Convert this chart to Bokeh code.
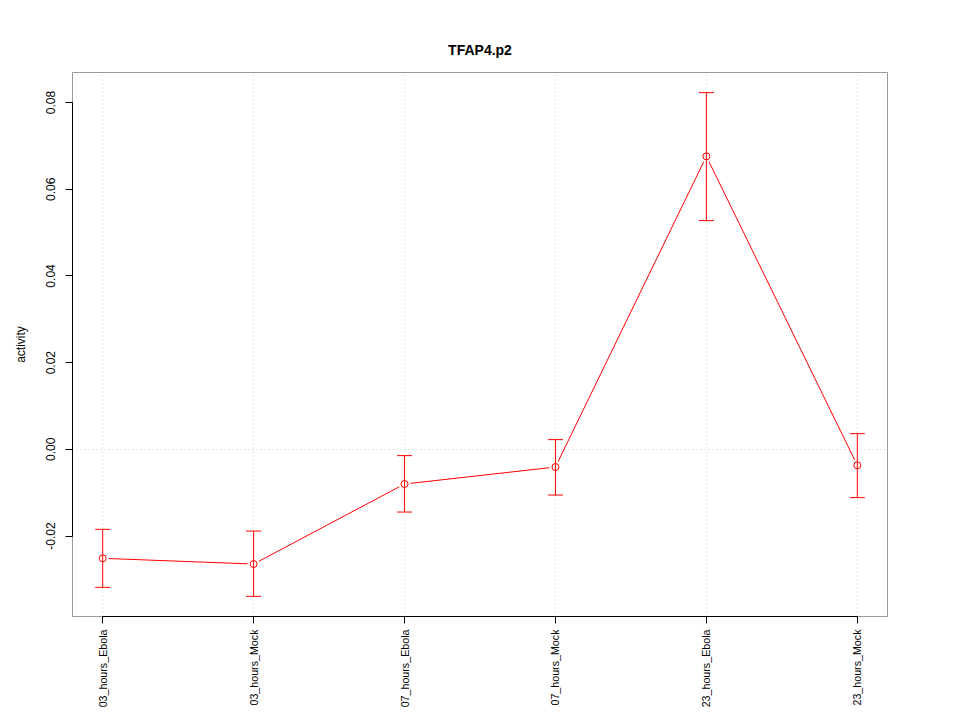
import math
import numpy as np
from bokeh.plotting import figure
from bokeh.layouts import column
from bokeh.models import ColumnDataSource, Whisker, TeeHead, FixedTicker, Range1d, Spacer
from bokeh.embed import file_html
from bokeh.resources import INLINE

# ---- data ----
categories = ["03_hours_Ebola", "03_hours_Mock", "07_hours_Ebola",
              "07_hours_Mock", "23_hours_Ebola", "23_hours_Mock"]
activity = [-0.02514, -0.02646, -0.00800, -0.00408, 0.06759, -0.00369]
upper_err = [-0.01845, -0.01885, -0.00145, 0.00224, 0.08228, 0.00362]
lower_err = [-0.03183, -0.03391, -0.01446, -0.01054, 0.05276, -0.01114]
y_ticks = [-0.02, 0.00, 0.02, 0.04, 0.06, 0.08]
title_text = "TFAP4.p2"
y_label = "activity"

RED = "#FF0000"
FONT = "Liberation Sans"

n = len(categories)
xs = np.arange(1, n + 1, dtype=float)

# R-style 4% axis extension
x0, x1 = 1 - 0.04 * (n - 1), n + 0.04 * (n - 1)
ymin, ymax = min(lower_err), max(upper_err)
ext = 0.04 * (ymax - ymin)
y0, y1 = ymin - ext, ymax + ext

FW, FH = 815, 544

p = figure(output_backend="svg", toolbar_location=None,
           frame_width=FW, frame_height=FH,
           min_border_left=72, min_border_top=0,
           min_border_right=57, min_border_bottom=96,
           x_range=Range1d(x0, x1), y_range=Range1d(y0, y1),
           background_fill_color="white", border_fill_color="white")

p.title.text = title_text
p.title.align = "center"
p.title.text_font = FONT
p.title.text_font_size = "14px"
p.title.text_font_style = "bold"
p.title.text_color = "black"
p.title.standoff = 30

p.outline_line_color = "#999999"
p.outline_line_width = 1

# grid
p.xgrid.ticker = FixedTicker(ticks=list(xs))
p.xgrid.grid_line_color = "#cccccc"
p.xgrid.grid_line_dash = "1 3"
p.ygrid.ticker = FixedTicker(ticks=[0.0])
p.ygrid.grid_line_color = "#cccccc"
p.ygrid.grid_line_dash = "1 3"

# x axis
p.xaxis.ticker = FixedTicker(ticks=list(xs))
p.xaxis.major_label_overrides = {float(x): c for x, c in zip(xs, categories)}
p.xaxis.major_label_orientation = math.pi / 2
p.xaxis.major_label_text_font = FONT
p.xaxis.major_label_text_font_size = "10.7px"
p.xaxis.major_label_text_color = "black"
p.xaxis.major_label_standoff = 6
p.xaxis.bounds = (float(xs[0]), float(xs[-1]))

# y axis
p.yaxis.ticker = FixedTicker(ticks=y_ticks)
p.yaxis.major_label_overrides = {t: f"{t:.2f}" for t in y_ticks}
p.yaxis.major_label_orientation = "vertical"
p.yaxis.major_label_text_font = FONT
p.yaxis.major_label_text_font_size = "12px"
p.yaxis.major_label_text_color = "black"
p.yaxis.major_label_standoff = 10
p.yaxis.bounds = (min(y_ticks), max(y_ticks))
p.yaxis.axis_label = y_label
p.yaxis.axis_label_text_font = FONT
p.yaxis.axis_label_text_font_size = "12px"
p.yaxis.axis_label_text_font_style = "normal"
p.yaxis.axis_label_text_color = "black"
p.yaxis.axis_label_standoff = 16

for ax in (p.xaxis, p.yaxis):
    ax.axis_line_color = "black"
    ax.major_tick_line_color = "black"
    ax.major_tick_in = 0
    ax.major_tick_out = 7
    ax.minor_tick_line_color = None

# line segments with gaps (R type="b")
ys = np.array(activity)
ppx = FW / (x1 - x0)
ppy = FH / (y1 - y0)
gap = 6.0
sx0, sy0, sx1, sy1 = [], [], [], []
for i in range(n - 1):
    dx = xs[i + 1] - xs[i]
    dy = ys[i + 1] - ys[i]
    L = np.hypot(dx * ppx, dy * ppy)
    f = gap / L
    sx0.append(xs[i] + f * dx)
    sy0.append(ys[i] + f * dy)
    sx1.append(xs[i + 1] - f * dx)
    sy1.append(ys[i + 1] - f * dy)
p.segment(x0=sx0, y0=sy0, x1=sx1, y1=sy1, line_color=RED, line_width=1)

src = ColumnDataSource(dict(x=xs, y=ys, upper=upper_err, lower=lower_err))
w = Whisker(base="x", upper="upper", lower="lower", source=src,
            line_color=RED, line_width=1,
            upper_head=TeeHead(size=15, line_color=RED, line_width=1),
            lower_head=TeeHead(size=15, line_color=RED, line_width=1))
p.add_layout(w)

p.scatter("x", "y", source=src, size=7, marker="circle",
          fill_color=None, line_color=RED, line_width=1)

layout = column(Spacer(height=24, width=10), p, spacing=0)

open("out.html", "w").write(file_html(layout, INLINE))
